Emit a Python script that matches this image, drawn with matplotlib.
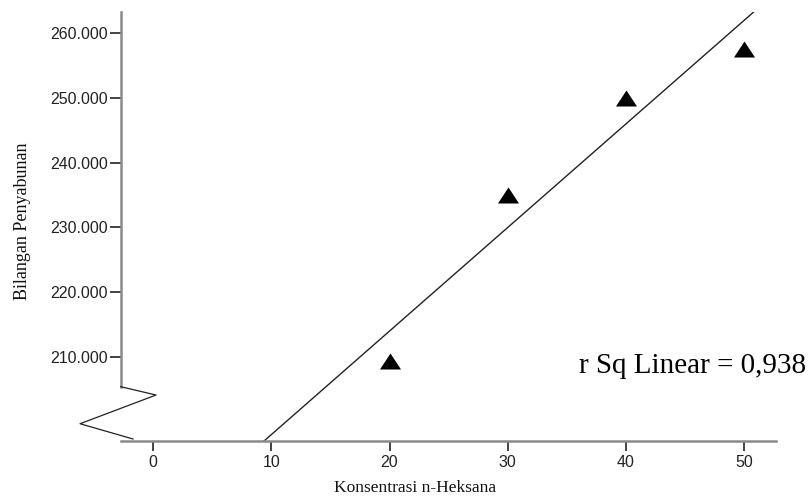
import numpy as np
import matplotlib
matplotlib.use("Agg")
import matplotlib.pyplot as plt
from matplotlib.ticker import FuncFormatter

# Measured data
konsentrasi = [20, 30, 40, 50]
bilangan_penyabunan = [209.3, 235.0, 250.0, 257.6]
x_ticks = [0, 10, 20, 30, 40, 50]
y_ticks = [210, 220, 230, 240, 250, 260]
r_sq_label = "r Sq Linear = 0,938"

fig = plt.figure(figsize=(8.08, 4.99), dpi=100)
ax = fig.add_axes([0.1494, 0.1162, 0.8106, 0.8598])

x_lo, x_hi = -2.76, 52.7
y_lo, y_hi = 197.0, 263.3
ax.set_xlim(x_lo, x_hi)
ax.set_ylim(y_lo, y_hi)

# Scatter points: a slightly flattened upward triangle
tri = [(-1.0, -0.76), (1.0, -0.76), (0.0, 0.76), (-1.0, -0.76)]
ax.scatter(konsentrasi, bilangan_penyabunan, marker=tri, s=230, color="black",
           zorder=3, linewidths=0)

# Linear fit line, clipped to the plotting area
slope, intercept = np.polyfit(konsentrasi, bilangan_penyabunan, 1)
xs = np.array([x_lo, x_hi])
ax.plot(xs, slope * xs + intercept, color="#222222", lw=1.0, zorder=2)

# Spines
for side in ("top", "right"):
    ax.spines[side].set_visible(False)
spine_color = "#8a8a8a"
ax.spines["left"].set_color(spine_color)
ax.spines["bottom"].set_color(spine_color)
ax.spines["left"].set_linewidth(1.8)
ax.spines["bottom"].set_linewidth(1.8)
ax.spines["left"].set_bounds(205.4, y_hi)

# Axis break zigzag between the y axis and the x axis
zig_x = [0.0, 0.0539, -0.0621, 0.0188]
zig_y = [0.1266, 0.1072, 0.0403, 0.0047]
ax.plot(zig_x, zig_y, transform=ax.transAxes, color="#222222", lw=0.9,
        clip_on=False, zorder=4)

# Ticks
ax.set_xticks(x_ticks)
ax.set_yticks(y_ticks)
ax.yaxis.set_major_formatter(FuncFormatter(lambda v, p: f"{v:.3f}"))
ax.tick_params(axis="both", direction="out", color="#222222", width=1.2,
               labelsize=11.5, labelcolor="#222222")
ax.tick_params(axis="y", length=8, pad=1)
ax.tick_params(axis="x", length=7, pad=3)
for lab in ax.get_xticklabels() + ax.get_yticklabels():
    lab.set_fontfamily("Liberation Sans")

# Axis titles
fig.text(415 / 808, 1 - 488 / 499, "Konsentrasi n-Heksana", ha="center",
         va="center", family="Liberation Serif", fontsize=12.5, color="#111111")
fig.text(23 / 808, 1 - 221 / 499, "Bilangan Penyabunan", ha="center",
         va="center", rotation=90, family="Liberation Serif", fontsize=13,
         color="#111111")

# Fit annotation
fig.text(806 / 808, 1 - 373 / 499, r_sq_label, ha="right", va="baseline",
         family="Liberation Serif", fontsize=21, color="black")

fig.savefig("out.png", dpi=100)
